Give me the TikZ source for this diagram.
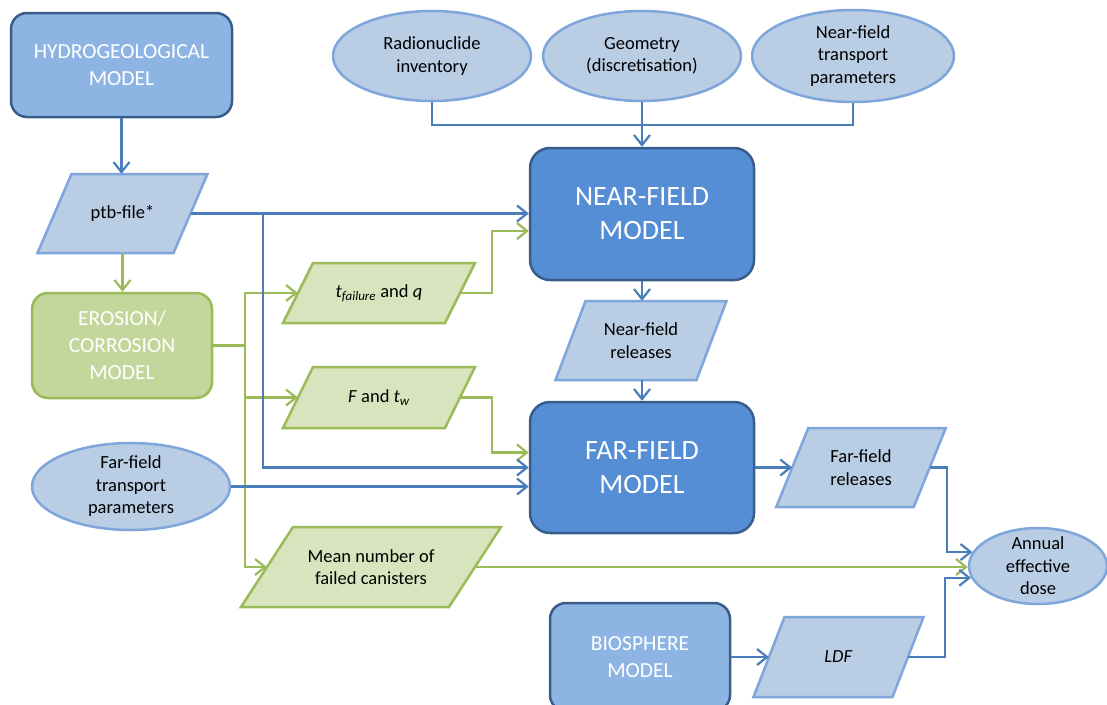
\documentclass[tikz,border=0pt]{standalone}
\usepackage{fontspec}
\setmainfont{Carlito}
\usetikzlibrary{arrows.meta,shapes.geometric,calc}

\definecolor{linkblue}{HTML}{4A7EBB}
\definecolor{linkgreen}{HTML}{9BBB59}
\definecolor{modeldark}{HTML}{558ED5}
\definecolor{modelmid}{HTML}{8EB4E3}
\definecolor{modeledge}{HTML}{385D8A}
\definecolor{datafill}{HTML}{B9CDE5}
\definecolor{dataedge}{HTML}{7EA6DB}
\definecolor{erofill}{HTML}{C3D69B}
\definecolor{greendata}{HTML}{D7E4BD}

\tikzset{
  smalltext/.style={font=\fontsize{18.5}{22.5}\selectfont, align=center, text=black},
  model/.style={draw=modeledge, line width=2.5pt, rounded corners=16pt, text=white,
                align=center, inner sep=0pt},
  bigmodel/.style={model, fill=modeldark, font=\fontsize{28}{34}\selectfont, rounded corners=20pt},
  midmodel/.style={model, fill=modelmid, font=\fontsize{21.5}{27}\selectfont},
  gmodel/.style={model, fill=erofill, draw=linkgreen, font=\fontsize{21.5}{27}\selectfont},
  inputell/.style={ellipse, draw=dataedge, fill=datafill, line width=2.5pt, inner sep=0pt},
  bluedata/.style={draw=dataedge, fill=datafill, line width=2.5pt},
  greenshape/.style={draw=linkgreen, fill=greendata, line width=2.5pt},
  datalabel/.style={smalltext, inner sep=0pt},
  bl/.style={draw=linkblue, line width=2.2pt},
  gl/.style={draw=linkgreen, line width=2.2pt},
  tip/.style={-{Straight Barb[length=10pt,width=16pt]}},
  bothtips/.style={{Straight Barb[length=10pt,width=16pt]}-{Straight Barb[length=10pt,width=16pt]}},
}

% data item: parallelogram leaning right, with a named node spanning its mid-height width
% #1 style, #2 name, #3 x, #4 y, #5 mid width, #6 height, #7 slant, #8 text
\newcommand\datashape[8]{%
  \path[#1] (#3-#5/2+#7/2,#4-#6/2) -- (#3+#5/2+#7/2,#4-#6/2)
        -- (#3+#5/2-#7/2,#4+#6/2) -- (#3-#5/2-#7/2,#4+#6/2) -- cycle;
  \node[datalabel, minimum width=#5pt, minimum height=#6pt] (#2) at (#3,#4) {#8};}

\begin{document}
\begin{tikzpicture}[x=1pt,y=-1pt]
\useasboundingbox (0,0) rectangle (1107,704);
\clip (0,0) rectangle (1107,704);

% models
\node[midmodel, minimum width=221pt, minimum height=104pt] (hydro) at (121.5,65) {HYDROGEOLOGICAL\\MODEL};
\node[gmodel, minimum width=180pt, minimum height=105pt] (ero) at (122,345.5) {EROSION/\\CORROSION\\MODEL};
\node[bigmodel, minimum width=224pt, minimum height=132pt] (nf) at (642,214) {NEAR-FIELD\\MODEL};
\node[bigmodel, minimum width=224pt, minimum height=131pt] (ff) at (642,467.5) {FAR-FIELD\\MODEL};
\node[midmodel, minimum width=180pt, minimum height=108pt] (bio) at (640,657) {BIOSPHERE\\MODEL};

% input parameters
\node[inputell, minimum width=198pt, minimum height=90pt,
      label={[datalabel]center:{Radionuclide\\inventory}}] (rad) at (432,56) {};
\node[inputell, minimum width=198pt, minimum height=90pt,
      label={[datalabel]center:{Geometry\\(discretisation)}}] (geo) at (642,56) {};
\node[inputell, minimum width=202pt, minimum height=92pt,
      label={[datalabel]center:{Near-field\\transport\\parameters}}] (nft) at (853,56) {};
\node[inputell, minimum width=198pt, minimum height=87pt,
      label={[datalabel]center:{Far-field\\transport\\parameters}}] (fft) at (131,486.5) {};
\node[inputell, minimum width=138pt, minimum height=76pt,
      label={[datalabel]center:{Annual\\effective\\dose}}] (ann) at (1038,566) {};

% data items
\datashape{bluedata}{ptb}{122.5}{213.5}{136}{79}{34}{ptb-file*}
\datashape{greenshape}{tf}{379}{293}{162}{60}{30}{\textit{t}\textsubscript{\textit{failure}} and \textit{q}}
\datashape{greenshape}{ftw}{379}{397.5}{162}{61}{30}{\textit{F} and \textit{t}\textsubscript{\textit{w}}}
\datashape{greenshape}{mean}{371}{567}{208}{80}{52}{Mean number of\\failed canisters}
\datashape{bluedata}{nfr}{641}{340.5}{141}{79}{30}{Near-field\\releases}
\datashape{bluedata}{ffr}{861}{467.5}{137.5}{79}{32}{Far-field\\releases}
\datashape{bluedata}{ldf}{838.5}{657}{139}{80}{31}{\textit{LDF}}

% helper coordinates
\coordinate (gb) at (245,0);
\coordinate (gx) at (492,0);
\coordinate (bj) at (263,214);
\coordinate (bus) at (0,125);
\coordinate (ax) at (947,0);
\coordinate (ax2) at (945,0);
\coordinate (nfin) at ($(nf.west)+(0,17)$);
\coordinate (ffin) at ($(ff.west)+(0,-15)$);

% green connectors
\draw[gl,tip] (ptb.south) -- (ptb.south |- ero.north);
\draw[gl] (ero.east) -- (ero.east -| gb);
\draw[gl,bothtips] (tf.west) -| (gb |- mean.west) -- (mean.west);
\draw[gl,tip] (ftw.west -| gb) -- (ftw.west);
\draw[gl,tip] (tf.east) -| (gx |- nfin) -- (nfin);
\draw[gl,tip] (ftw.east) -| (gx |- ffin) -- (ffin);
\draw[gl,tip] (mean.east) -- (mean.east -| ann.west);

% blue connectors
\draw[bl,tip] (hydro.south) -- (hydro.south |- ptb.north);
\draw[bl,tip] (ptb.east) -- (ptb.east -| nf.west);
\draw[bl,tip] (bj) |- (ff.west);
\draw[bl,tip] (fft.east) -- (fft.east -| ff.west);
\draw[bl] (rad.south) |- (bus -| nft.south) -- (nft.south);
\draw[bl,tip] (geo.south) -- (nf.north);
\draw[bl,tip] (nf.south) -- (nf.south |- nfr.north);
\draw[bl,tip] (nf.south |- nfr.south) -- (ff.north);
\draw[bl,tip] (ff.east) -- (ffr.west);
\draw[bl,tip] (ffr.east) -| (ax |- ann.168) -- (ann.168);
\draw[bl,tip] (bio.east) -- (bio.east -| ldf.west);
\draw[bl,tip] (ldf.east) -| (ax2 |- ann.190) -- (ann.190);
\end{tikzpicture}
\end{document}
